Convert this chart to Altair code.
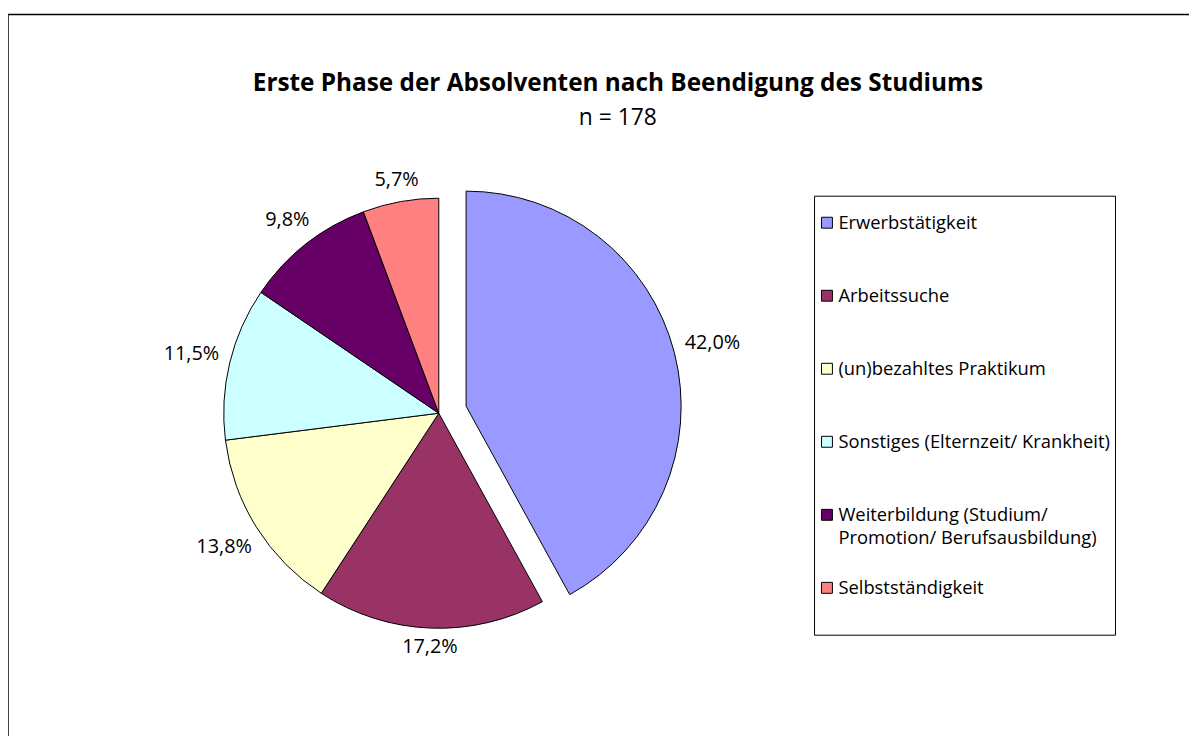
import altair as alt
import pandas as pd

# ---- data ----
categories = [
    "Erwerbstätigkeit",
    "Arbeitssuche",
    "(un)bezahltes Praktikum",
    "Sonstiges (Elternzeit/ Krankheit)",
    "Weiterbildung (Studium/ Promotion/ Berufsausbildung)",
    "Selbstständigkeit",
]
legend_labels = [
    "Erwerbstätigkeit",
    "Arbeitssuche",
    "(un)bezahltes Praktikum",
    "Sonstiges (Elternzeit/ Krankheit)",
    "Weiterbildung (Studium/\nPromotion/ Berufsausbildung)",
    "Selbstständigkeit",
]
shares = [42.0, 17.2, 13.8, 11.5, 9.8, 5.7]
colors = ["#9999FF", "#993366", "#FFFFCC", "#CCFFFF", "#660066", "#FF8080"]
exploded = "Erwerbstätigkeit"
title_text = "Erste Phase der Absolventen nach Beendigung des Studiums"
subtitle_text = "n = 178"

df = pd.DataFrame({
    "cat": categories,
    "legend": legend_labels,
    "share": shares,
    "order": list(range(len(categories))),
})

FONT = "Open Sans"
W, H = 1181, 724
CX, CY, R = 433.7, 401.5, 216.5      # pie centre / radius (view coords)
EX, EY = 27.5, -7.1                   # explode offset of first slice

color = alt.Color("cat:N", scale=alt.Scale(domain=categories, range=colors), legend=None)

base = alt.Chart(df).transform_window(
    cum="sum(share)", sort=[alt.SortField("order")], frame=[None, 0]
).transform_joinaggregate(
    total="sum(share)"
).transform_calculate(
    t0="2*PI*(datum.cum - datum.share)/datum.total",
    t1="2*PI*datum.cum/datum.total",
    tm="PI*(2*datum.cum - datum.share)/datum.total",
    label="replace(format(datum.share, '.1f'), '.', ',') + '%'",
).transform_calculate(
    rl=f"{R} + 10 + 5.7*length(datum.label)*abs(sin(datum.tm)) + 8*abs(cos(datum.tm))"
)

rest = base.transform_filter(f"datum.cat != '{exploded}'")
expl = base.transform_filter(f"datum.cat == '{exploded}'")

arc_enc = dict(
    theta=alt.Theta("t0:Q", scale=None, stack=False),
    theta2="t1:Q",
    color=color,
)
lab_enc = dict(
    theta=alt.Theta("tm:Q", scale=None, stack=False),
    radius=alt.Radius("rl:Q", scale=None),
    text="label:N",
)

pie_rest = rest.mark_arc(x=CX, y=CY, radius=R, stroke="black", strokeWidth=1).encode(**arc_enc)
pie_expl = expl.mark_arc(x=CX + EX, y=CY + EY, radius=R, stroke="black", strokeWidth=1).encode(**arc_enc)
lab_rest = rest.mark_text(x=CX, y=CY, font=FONT, fontSize=20, color="black").encode(**lab_enc)
lab_expl = expl.mark_text(x=CX + EX, y=CY + EY, font=FONT, fontSize=20, color="black").encode(**lab_enc)

# ---- legend (boxed) ----
leg_y = alt.Y("cat:N", scale=alt.Scale(domain=categories, range=[209.7, 577.3], padding=0), axis=None)
leg_box = alt.Chart(pd.DataFrame({"k": [0]})).mark_rect(
    fill="white", stroke="black", strokeWidth=1
).encode(x=alt.value(812), x2=alt.value(1115), y=alt.value(183), y2=alt.value(625))
leg_sym = alt.Chart(df).mark_square(size=121, stroke="black", strokeWidth=1, filled=True, opacity=1).encode(
    x=alt.value(824.5), y=leg_y, color=color
)
leg_txt = alt.Chart(df).mark_text(
    align="left", baseline="middle", lineBreak="\n", lineHeight=23,
    font=FONT, fontSize=18.5, color="black"
).encode(x=alt.value(836), y=leg_y, text="legend:N")

# ---- outer frame (top / left edges) ----
frame_src = alt.Chart(pd.DataFrame({"k": [0]}))
frame_left = frame_src.mark_rule(color="black", strokeWidth=1.5).encode(
    x=alt.value(0), y=alt.value(0), y2=alt.value(H + 10)
)
frame_top = frame_src.mark_rule(color="black", strokeWidth=1.5).encode(
    x=alt.value(0), x2=alt.value(W + 10), y=alt.value(0)
)

chart = alt.layer(
    frame_left, frame_top, pie_rest, pie_expl, lab_rest, lab_expl, leg_box, leg_sym, leg_txt
).properties(
    width=W,
    height=H,
    background="white",
    padding={"left": 0, "top": 4, "right": 8, "bottom": 0},
    autosize=alt.AutoSizeParams(type="none"),
    title=alt.TitleParams(
        text=title_text,
        subtitle=subtitle_text,
        anchor="middle",
        frame="group",
        font=FONT,
        fontSize=24.5,
        fontWeight="bold",
        color="black",
        subtitleFont=FONT,
        subtitleFontSize=23,
        subtitleColor="black",
        subtitlePadding=11,
        offset=-118,
        dx=23.5,
    ),
).configure_view(stroke="transparent", strokeWidth=0)

chart.save("out.html", embed_options={"renderer": "svg", "actions": False})
